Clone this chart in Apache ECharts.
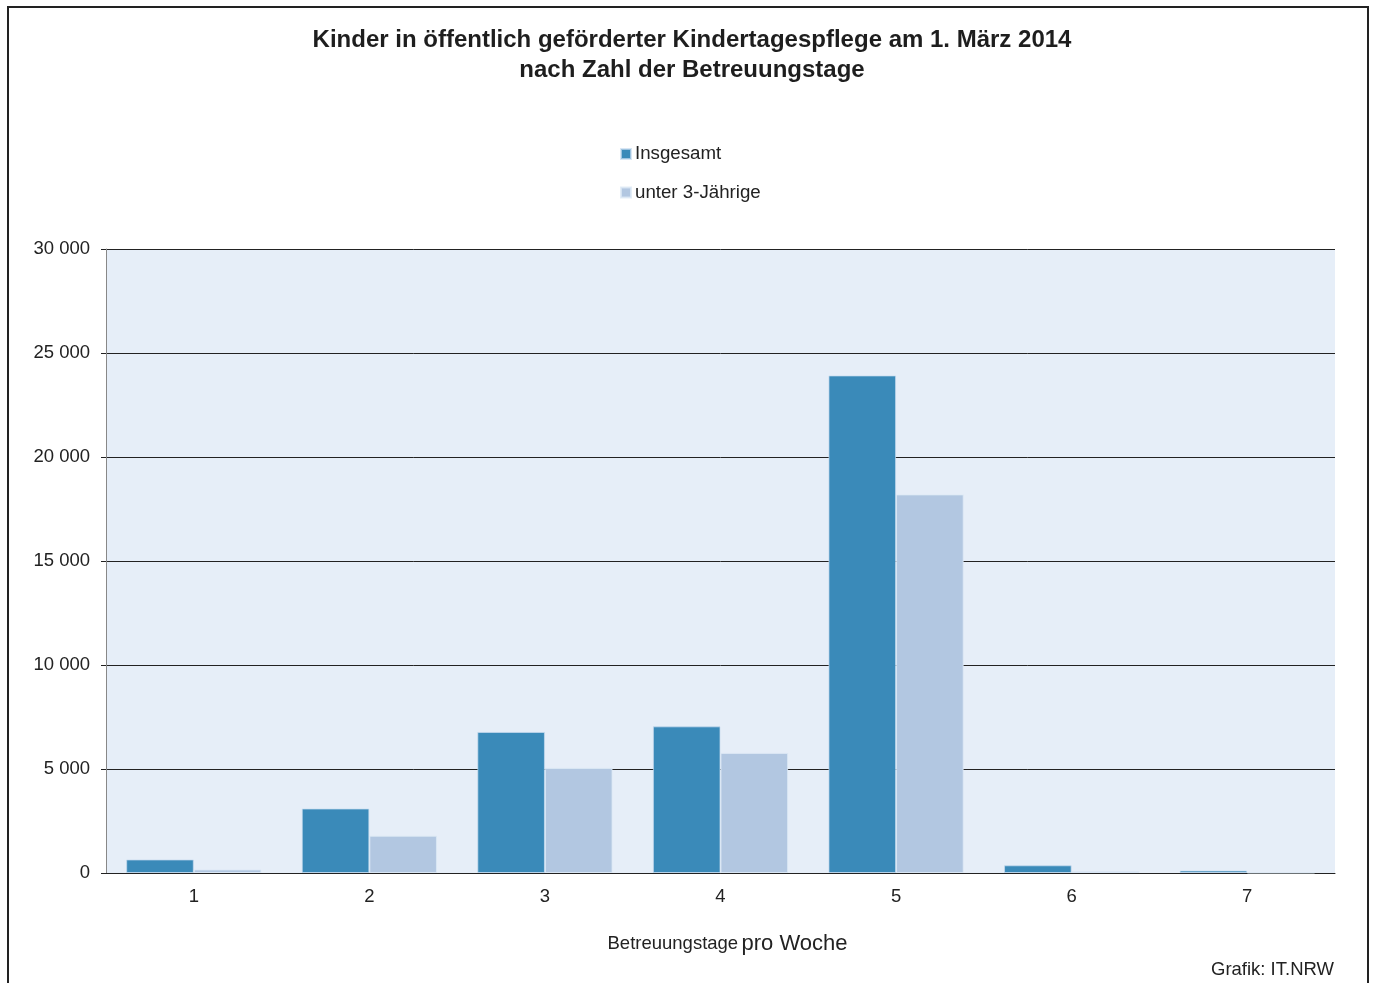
<!DOCTYPE html>
<html>
<head>
<meta charset="utf-8">
<script src="https://cdn.jsdelivr.net/npm/echarts@6/dist/echarts.min.js"></script>
<style>
html,body{margin:0;padding:0;background:#fff;}
#chart{width:1375px;height:983px;}
</style>
</head>
<body>
<div id="chart"></div>
<script>
const categories = ['1', '2', '3', '4', '5', '6', '7'];
const insgesamt = [650, 3100, 6780, 7050, 23920, 370, 120];
const unter3 = [170, 1790, 5050, 5770, 18200, 90, 20];
const seriesNames = ['Insgesamt', 'unter 3-Jährige'];
const titleText = 'Kinder in öffentlich geförderter Kindertagespflege am 1. März 2014\nnach Zahl der Betreuungstage';
const yTicks = [0, 5000, 10000, 15000, 20000, 25000, 30000];

const FONT = '"Liberation Sans", Arial, sans-serif';
const chart = echarts.init(document.getElementById('chart'), null, {renderer: 'canvas'});

function fmt(v) {
  return String(v).replace(/\B(?=(\d{3})+(?!\d))/g, ' ');
}

chart.setOption({
  backgroundColor: '#ffffff',
  animation: false,
  textStyle: {fontFamily: FONT},
  title: {
    text: titleText,
    left: 687,
    textAlign: 'center',
    top: 20,
    textStyle: {fontFamily: FONT, fontSize: 24, fontWeight: 'bold', color: '#1e1e1e', lineHeight: 30}
  },
  legend: {
    orient: 'vertical',
    left: 615,
    top: 138,
    itemWidth: 10,
    itemHeight: 10,
    itemGap: 16.5,
    icon: 'rect',
    data: seriesNames,
    textStyle: {fontFamily: FONT, fontSize: 18.7, color: '#222', lineHeight: 22, padding: [0, 0, 0, -1]}
  },
  grid: {
    left: 106,
    right: 40,
    top: 249,
    bottom: 110,
    show: true,
    backgroundColor: '#e6eef8',
    borderWidth: 0
  },
  xAxis: {
    type: 'category',
    data: categories,
    axisLine: {show: true, lineStyle: {color: '#222', width: 1}},
    axisTick: {show: false},
    axisLabel: {fontFamily: FONT, fontSize: 18.5, color: '#222', margin: 14},
    name: '{a|Betreuungstage} {b|pro Woche}',
    nameLocation: 'middle',
    nameGap: 60,
    nameTextStyle: {
      padding: [0, 0, 0, 14],
      rich: {
        a: {fontFamily: FONT, fontSize: 18.5, color: '#222'},
        b: {fontFamily: FONT, fontSize: 22, color: '#222'}
      }
    }
  },
  yAxis: {
    type: 'value',
    min: 0,
    max: 30000,
    interval: 5000,
    axisLine: {show: true, lineStyle: {color: '#888', width: 1}},
    axisTick: {show: true, length: 5, inside: false, lineStyle: {color: '#222'}},
    axisLabel: {
      fontFamily: FONT, fontSize: 18.5, color: '#222', margin: 16,
      formatter: function (v) { return yTicks.indexOf(v) >= 0 ? fmt(v) : ''; }
    },
    splitLine: {show: true, lineStyle: {color: '#222', width: 1}}
  },
  series: [
    {
      name: seriesNames[0],
      type: 'bar',
      data: insgesamt,
      barGap: '0%',
      barCategoryGap: '23%',
      itemStyle: {color: '#3a8ab9', borderColor: 'rgba(200,220,240,0.7)', borderWidth: 1}
    },
    {
      name: seriesNames[1],
      type: 'bar',
      data: unter3,
      itemStyle: {color: '#b2c7e1', borderColor: 'rgba(220,232,245,0.8)', borderWidth: 1}
    }
  ],
  graphic: [
    {
      type: 'rect',
      shape: {x: 8, y: 7, width: 1360, height: 1000},
      style: {fill: 'none', stroke: '#222', lineWidth: 2},
      silent: true
    },
    {
      type: 'text',
      right: 41,
      top: 960,
      style: {text: 'Grafik: IT.NRW', font: '18.5px ' + FONT, fill: '#222'}
    }
  ]
});
</script>
</body>
</html>
